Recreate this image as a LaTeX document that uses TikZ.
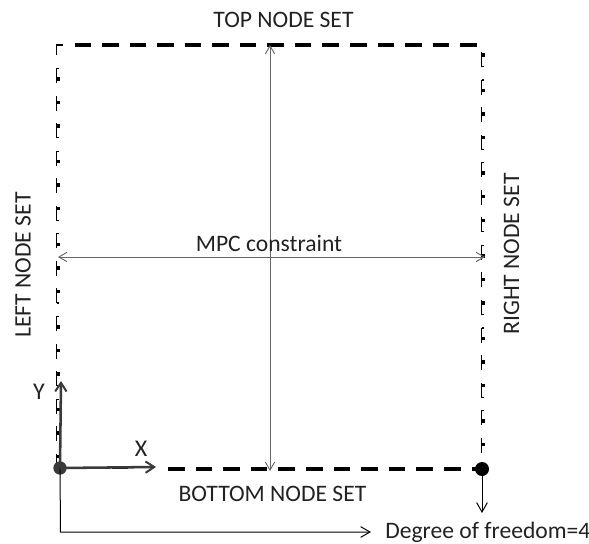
\documentclass[tikz,border=0pt]{standalone}
\usepackage{fontspec}
\setmainfont{Carlito}
\usetikzlibrary{arrows.meta}
\definecolor{txt}{HTML}{222222}
\definecolor{axis}{HTML}{3A3A3A}
\definecolor{thinline}{HTML}{666666}
\tikzset{
  x=0.75pt,y=-0.75pt,
  lbl/.style={font=\fontsize{17.7pt}{20pt}\selectfont,text=txt,inner sep=0pt},
  axislbl/.style={font=\fontsize{18pt}{20pt}\selectfont,text=txt,inner sep=0pt},
  dot/.style={circle,fill=#1,draw=none,minimum size=10pt,inner sep=0pt},
  hdash/.style={line width=2.6pt,black},
  vdash/.style={line width=1.15pt,black},
  vtick/.style={line width=2.6pt,black},
  vhook/.style={line width=0.9pt,black},
  connb/.style={line width=0.7pt,thinline,{Straight Barb[length=6pt,width=7pt,line width=0.7pt]}-{Straight Barb[length=6pt,width=7pt,line width=0.7pt]}},
  blk/.style={line width=0.75pt,black,-{Straight Barb[length=7pt,width=8pt,line width=0.75pt]}},
  ax/.style={line width=1.9pt,axis,-{Straight Barb[length=6.5pt,width=8.5pt,line width=1.5pt]}}
}
\begin{document}
\begin{tikzpicture}
\useasboundingbox (0,0) rectangle (589,543);
% top and bottom dashed edges
\foreach \i in {0,...,14}{
  \draw[hdash] ({74.5+27.55*\i},45) -- ({91+27.55*\i},45);
}
\foreach \i in {0,...,10}{
  \draw[hdash] ({168+27.6*\i},469) -- ({184.5+27.6*\i},469);
}
\draw[hdash,line width=1.8pt] (84,468) -- (100,468);
\draw[hdash,line width=1.8pt] (112,468) -- (128,468);
\draw[hdash] (472,469) -- (476,469);
% left and right dashed edges with their small ticks
\draw[vdash] (56.5,55) -- (56.5,45);
\draw[line width=1.8pt,black] (56,45) -- (63,45);
\foreach \i/\o/\h in {0/11/0.5,1/7/7,2/3/14.5,3/11/0.5,4/7/7,5/3/14.5,6/11/0.5,7/7/7,8/3/14.5,9/11/0.5,10/7/7,11/3/14.5,12/11/0.5,13/7/7,14/3/9}{
  \ifnum\i=14
    \draw[vdash] (56.5,{68+27.55*\i}) -- (56.5,{78+27.55*\i});
  \else
    \draw[vdash] (56.5,{68+27.55*\i}) -- (56.5,{83+27.55*\i});
  \fi
  \draw[vtick] (56.5,{68+27.55*\i+\o}) -- (59.5,{68+27.55*\i+\o});
  \draw[vhook] (56.5,{68+27.55*\i+\h}) -- (59,{68+27.55*\i+\h});
}
\foreach \i/\o/\h in {0/3/14.5,1/11/0.5,2/7/7,3/3/14.5,4/11/0.5,5/7/7,6/3/14.5,7/11/0.5,8/7/7,9/3/14.5,10/11/0.5,11/7/7,12/3/14.5,13/11/0.5,14/7/7}{
  \draw[vdash] (481.7,{52+27.55*\i}) -- (481.7,{67+27.55*\i});
  \draw[vtick] (481.7,{52+27.55*\i+\o}) -- (484.7,{52+27.55*\i+\o});
  \draw[vhook] (481.7,{52+27.55*\i+\h}) -- (484.2,{52+27.55*\i+\h});
}
% nodes
\node[dot=axis,minimum size=10pt] (o) at (60,468) {};
\node[dot=black,minimum size=10.5pt] (c) at (482,469) {};
\coordinate (xend) at (156,467);
\coordinate (yend) at (61,381);
\coordinate (vt) at (270,45);
\coordinate (vb) at (270,471);
\coordinate (hl) at (58,257);
\coordinate (hr) at (485,257);
\coordinate (low) at (60.5,532);
\coordinate (dofend) at (371,532);
\coordinate (cdown) at (482,513);
% connectors
\draw[connb] (vt) -- (vb);
\draw[connb] (hl) -- (hr);
\draw[blk] (o.center) -- (low) -- (dofend);
\draw[blk] (c) -- (cdown);
\draw[ax] (o.center) -- (xend);
\draw[ax] (o.center) -- (yend);
% labels
\node[lbl] (top) at (283.5,20) {TOP NODE SET};
\node[lbl] (bottom) at (272.5,494) {BOTTOM NODE SET};
\node[lbl,rotate=90] (left) at (23,265) {LEFT NODE SET};
\node[lbl,rotate=90] (right) at (511.5,254) {RIGHT NODE SET};
\node[lbl] (mpc) at (269,243) {MPC constraint};
\node[lbl,anchor=west] (dof) at (385,532.5) {Degree of freedom=4};
\node[axislbl] (xl) at (141,449) {X};
\node[axislbl] (yl) at (39,392) {Y};
\end{tikzpicture}
\end{document}
